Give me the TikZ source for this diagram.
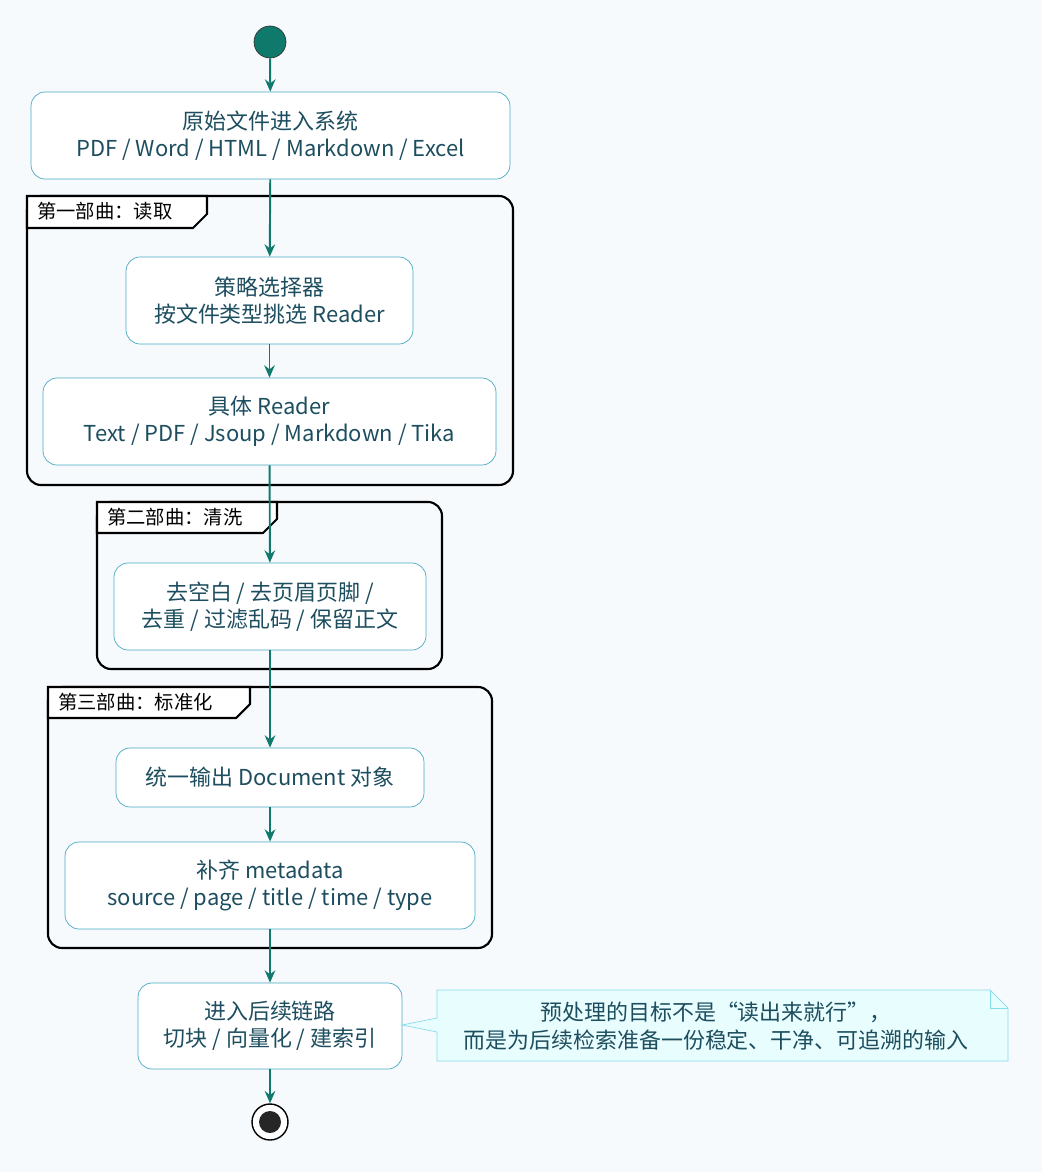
\documentclass[tikz,border=0pt]{standalone}
\usepackage{fontspec}
\setmainfont{Noto Sans CJK SC}
\usetikzlibrary{arrows.meta}
\definecolor{bg}{HTML}{F6FAFD}
\definecolor{teal0}{HTML}{0F7A6C}
\definecolor{boxline}{HTML}{4AAAC2}
\definecolor{boxtext}{HTML}{1D4E5F}
\definecolor{notefill}{HTML}{E8FDFE}
\definecolor{noteline}{HTML}{86DCEA}
\tikzset{
  stage/.style={draw=boxline,fill=white,rounded corners=8pt,text=boxtext,
    align=center,font=\fontsize{12.5}{15.5}\selectfont,inner sep=0pt},
  flow/.style={draw=teal0,line width=1.1pt,-{Stealth[length=7pt,width=6pt]}},
  frame/.style={draw=black,line width=1.2pt,rounded corners=8pt},
  tab/.style={draw=black,line width=1.2pt,fill=white},
}
\begin{document}
\begin{tikzpicture}[x=0.02cm,y=-0.02cm]
\fill[bg] (0,0) rectangle (1042,1172);

% frames
\draw[frame] (27,196) rectangle (513,485);
\draw[tab] (27,196) -- (27,228) -- (193,228) -- (207,214) -- (207,196) -- cycle;
\node[anchor=west,font=\fontsize{11}{13}\selectfont] (f1) at (31,211) {第一部曲：读取};
\draw[frame] (97,502) rectangle (442,669);
\draw[tab] (97,502) -- (97,533) -- (263,533) -- (277,519) -- (277,502) -- cycle;
\node[anchor=west,font=\fontsize{11}{13}\selectfont] (f2) at (101,517) {第二部曲：清洗};
\draw[frame] (48,687) rectangle (492,948);
\draw[tab] (48,687) -- (48,718) -- (236,718) -- (250,704) -- (250,687) -- cycle;
\node[anchor=west,font=\fontsize{11}{13}\selectfont] (f3) at (52,702) {第三部曲：标准化};

% nodes
\node[circle,fill=teal0,draw=black!80,minimum size=0.64cm,inner sep=0pt] (start) at (270,42) {};
\node[stage,minimum width=9.58cm,minimum height=1.74cm] (src) at (270.5,135.5)
  {原始文件进入系统\\PDF / Word / HTML / Markdown / Excel};
\node[stage,minimum width=5.74cm,minimum height=1.74cm] (pick) at (269.5,300.5)
  {策略选择器\\按文件类型挑选 Reader};
\node[stage,minimum width=9.06cm,minimum height=1.74cm] (reader) at (269.5,421.5)
  {具体 Reader\\Text / PDF / Jsoup / Markdown / Tika};
\node[stage,minimum width=6.24cm,minimum height=1.74cm] (clean) at (270,606.5)
  {去空白 / 去页眉页脚 /\\去重 / 过滤乱码 / 保留正文};
\node[stage,minimum width=6.16cm,minimum height=1.18cm] (doc) at (270,777.5)
  {统一输出 Document 对象};
\node[stage,minimum width=8.2cm,minimum height=1.74cm] (meta) at (270,885.5)
  {补齐 metadata\\source / page / title / time / type};
\node[stage,minimum width=5.28cm,minimum height=1.72cm] (next) at (270,1026)
  {进入后续链路\\切块 / 向量化 / 建索引};
\node[circle,draw=black,line width=0.8pt,fill=white,minimum size=0.72cm,inner sep=0pt] (stop) at (270,1122) {};
\fill[black!85] (stop) circle (0.22cm);

% note
\draw[draw=noteline,fill=notefill] (437,990) -- (990,990) -- (1008,1008) -- (1008,1061)
  -- (437,1061) -- (437,1032) -- (402,1025) -- (437,1018) -- cycle;
\draw[draw=noteline] (990,990) -- (990,1008) -- (1008,1008);
\node[text=boxtext,align=center,font=\fontsize{12.5}{15.5}\selectfont] (note) at (716,1026)
  {预处理的目标不是“读出来就行”，\\而是为后续检索准备一份稳定、干净、可追溯的输入};

% flow
\draw[flow] (start) -- (src);
\draw[flow] (src) -- (pick);
\draw[flow] (pick) -- (reader);
\draw[flow] (reader) -- (clean);
\draw[flow] (clean) -- (doc);
\draw[flow] (doc) -- (meta);
\draw[flow] (meta) -- (next);
\draw[flow] (next) -- (stop);
\end{tikzpicture}
\end{document}
